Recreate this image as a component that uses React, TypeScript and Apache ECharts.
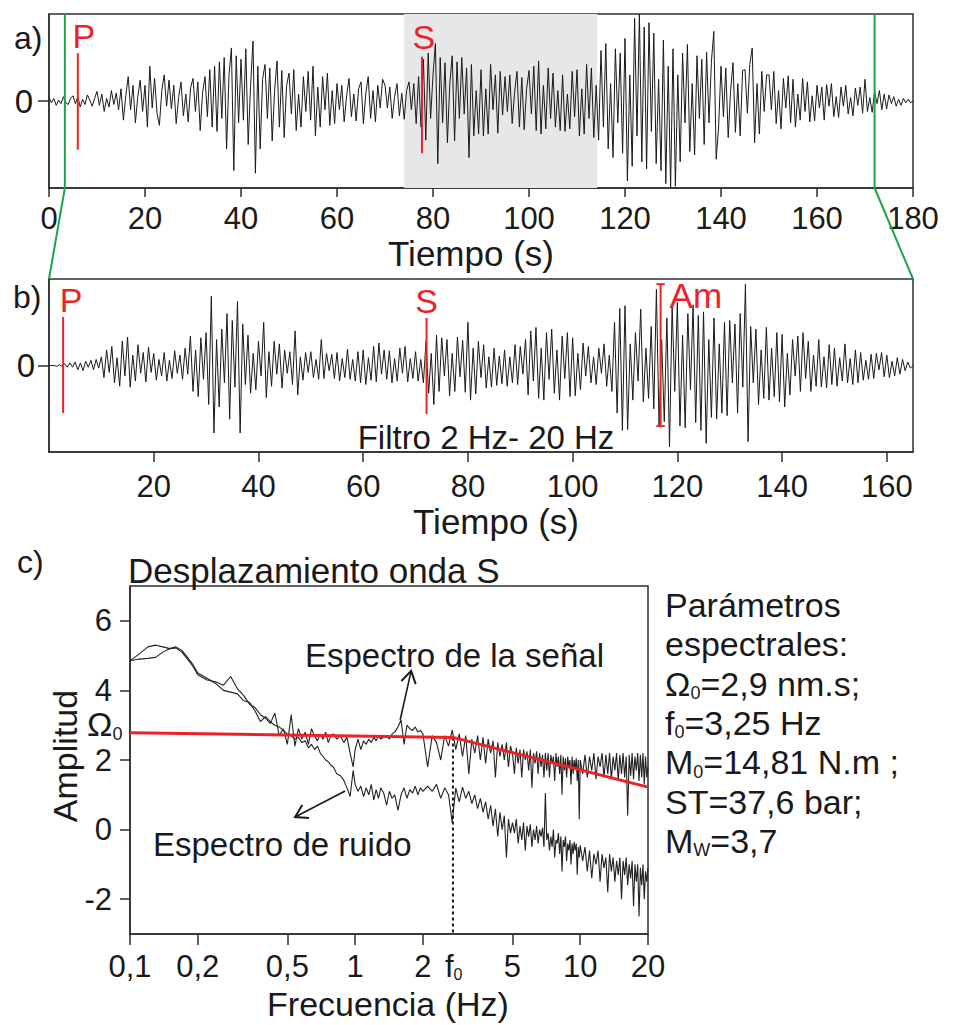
import React, { useEffect, useRef } from 'react';
import * as echarts from 'echarts';

// ---------- data ----------
const DT = 0.5;

// a) raw seismogram, 0-180 s (relative amplitude, %)
const TRACE_A = [
  4,-2,3,-5,1,-3,5,-2,-4,3,
  6,-3,5,-7,2,-4,7,1,-6,3,
  11,-5,8,-12,3,-7,12,-4,9,-10,
  14,-22,6,28,-10,18,-25,5,24,-12,
  18,-30,40,-8,26,-14,-28,12,30,-6,
  24,-9,18,-26,4,22,-17,8,-24,15,
  26,-12,22,-34,10,28,-18,36,-30,40,
  -35,45,-20,50,-55,30,61,-80,52,-25,
  48,-22,60,-50,18,69,-83,40,-55,25,
  42,-20,38,-46,12,46,-30,35,-42,18,
  32,-15,36,-34,8,-30,28,-12,34,-22,
  40,-40,16,-30,28,-10,32,-28,12,-26,
  20,-10,18,-24,6,26,-18,8,-23,14,
  22,-26,9,28,-20,12,-24,18,-8,25,
  18,-8,16,-20,5,20,-17,9,-21,12,
  22,-10,20,-26,28,-30,48,-45,55,-20,
  30,66,-72,50,-25,44,-48,20,52,-46,
  45,-20,50,-15,38,-65,42,-40,12,-38,
  36,-40,14,-38,42,-10,30,-37,34,-16,
  28,-12,30,-26,10,34,-30,27,-33,14,
  35,-15,40,-34,46,-38,18,-32,38,-20,
  32,-30,12,-34,30,-35,8,-32,34,-18,
  36,-40,14,-38,42,-20,38,-42,18,-45,
  58,-30,66,-55,20,-65,60,-25,55,-60,
  72,-92,30,-75,95,-40,100,-70,85,-78,
  90,-35,78,-72,25,-80,70,-95,40,-100,
  60,-98,30,-70,55,-25,65,-58,20,-62,
  52,-20,48,-50,56,-25,45,80,-67,-30,
  40,-18,38,-42,12,44,-36,20,-40,35,
  36,-14,42,61,-48,20,-38,34,-12,30,
  30,-10,34,-26,12,-32,26,-8,29,-25,
  25,-30,8,-22,26,-12,22,-24,6,-23,
  18,-8,16,-22,19,-6,20,-18,5,-19,
  16,-6,18,-15,4,-17,15,-5,16,-14,
  25,-12,4,-13,11,-3,12,-10,8,-9,
  7,-3,5,-6,2,-5,3,-2,2,-2,0,
];

// b) filtered seismogram (2-20 Hz), 0-165 s
const TRACE_B = [
  0,0,0,-1,1,-1,2,-2,3,-2,
  4,-5,3,-6,5,-2,6,-5,7,-3,
  10,-14,18,-8,22,-20,9,-24,28,-12,
  33,-25,12,-18,24,-9,15,-19,21,-8,
  14,-17,7,-12,15,-18,6,-15,17,-9,
  12,-16,20,-10,34,-30,18,-36,32,-16,
  38,-45,80,-78,30,-48,42,-20,60,-62,
  52,-25,74,-78,48,-22,35,-32,14,-28,
  28,-12,50,-37,16,-24,28,-10,25,-26,
  18,-9,16,-22,40,-34,10,-17,15,-8,
  16,-14,7,-16,30,-15,14,-6,13,-15,
  15,-18,8,-14,19,-16,7,-18,16,-20,
  18,-22,9,-17,22,-19,26,-10,18,-16,
  17,-20,8,-18,20,-9,22,-19,8,-15,
  16,-18,7,-20,28,-32,14,-45,35,-30,
  32,-12,30,-35,14,-30,33,-13,29,-31,
  50,-40,20,-33,28,-14,24,-26,10,-25,
  20,-23,11,-21,18,-24,10,-20,24,-22,
  22,-10,30,-34,40,-18,44,-38,20,-40,
  38,-16,42,-32,18,-40,34,-15,38,-36,
  32,-35,14,-28,26,-12,22,-20,10,-22,
  20,-9,25,-24,12,-30,50,-55,66,-75,
  69,-74,25,-40,38,-18,65,-42,20,-38,
  45,-50,88,-70,30,-65,55,-94,70,-30,
  73,-70,35,-72,60,-28,70,-66,58,-75,
  62,-90,30,-60,55,-62,25,-55,50,-58,
  52,-20,48,-55,60,-25,94,-88,45,-20,
  42,-45,18,-38,44,-40,20,-36,38,-42,
  36,-48,14,-34,30,-12,34,-30,38,-15,
  28,-30,12,-24,30,-25,10,-26,24,-22,
  20,-24,9,-18,25,-20,8,-22,18,-20,
  15,-17,6,-16,13,-15,14,-5,15,-13,
  12,-14,5,-12,9,-10,7,-6,4,-3,0,
];

// phase picks
const GRAY_WINDOW = [74, 114.2];
const WINDOW_B = [3.3, 172];
const P_A = { t: 6, top: 55, bottom: -56 };
const S_A = { t: 77.7, top: 51, bottom: -60 };
const P_B = { t: 2.7, top: 56, bottom: -55 };
const S_B = { t: 72.1, top: 55, bottom: -56 };
const AM_B = { t: 116.8, top: 94, bottom: -70 };

// c) S-wave displacement spectra
const FREQ = [
  0.10,0.11,0.12,0.13,0.14,0.15,0.16,0.17,0.18,0.19,0.20,
  0.22,0.24,0.26,0.28,0.30,0.32,0.34,0.36,0.38,0.40,0.42,0.44,0.46,0.48,0.50,
  0.52,0.54,0.56,0.58,0.60,0.62,0.64,0.66,0.68,0.70,0.72,0.74,0.76,0.78,0.80,
  0.83,0.86,0.89,0.92,0.95,0.98,1.00,
  1.03,1.06,1.09,1.12,1.15,1.18,1.21,1.24,1.27,1.30,
  1.34,1.38,1.42,1.46,1.50,
  1.55,1.60,1.65,1.70,1.75,1.80,1.85,1.90,1.95,2.00,
  2.1,2.2,2.3,2.4,2.5,2.6,2.7,
  2.8,2.9,3.0,3.1,3.2,3.3,3.4,3.5,
  3.6,3.7,3.8,3.9,4.0,4.1,4.2,4.3,4.4,4.5,4.6,4.7,4.8,4.9,5.0,
  5.1,5.2,5.3,5.4,5.5,5.6,5.7,5.8,5.9,6.0,6.1,6.2,6.3,6.4,6.5,6.6,6.7,6.8,6.9,7.0,
  7.1,7.2,7.3,7.4,7.5,7.6,7.7,7.8,7.9,8.0,8.1,8.2,8.3,8.4,8.5,8.6,8.7,8.8,8.9,9.0,
  9.1,9.2,9.3,9.4,9.5,9.6,9.7,9.8,9.9,10.0,
  10.25,10.5,10.75,11,11.25,11.5,11.75,12,12.25,12.5,12.75,13,13.25,13.5,13.75,14,
  14.25,14.5,14.75,15,15.25,15.5,15.75,16,16.25,16.5,16.75,17,17.25,17.5,17.75,18,
  18.25,18.5,18.75,19,19.25,19.5,19.75,20,
];
const SIGNAL = [
  4.85,5.05,5.25,5.3,5.25,5.2,5.22,5.1,4.9,4.7,4.45,
  4.3,4.25,4.15,4.4,4.05,3.85,3.6,3.5,3.3,3.2,3.05,3.35,2.7,2.9,2.45,
  3.3,2.4,2.9,2.6,2.8,2.45,2.9,2.7,2.55,2.75,2.6,2.8,2.5,2.7,2.75,
  2.6,2.7,2.5,2.65,2.2,1.8,2.3,
  2.6,2.3,2.55,2.45,2.6,2.5,2.65,2.55,2.7,2.6,
  2.65,2.7,2.6,2.75,2.8,
  2.95,3.15,2.45,3.0,2.9,2.85,2.95,2.8,2.85,2.75,
  1.8,2.7,2.5,2.0,2.7,2.4,2.86,
  2.3,2.75,2.1,2.7,1.6,2.6,2.2,2.7,
  2.0,2.65,1.9,2.6,2.2,2.55,1.5,2.5,2.1,2.45,2.0,2.5,1.8,2.4,2.2,
  1.6,2.35,1.9,2.3,1.5,2.3,2.0,2.25,1.7,2.3,1.2,2.2,1.9,2.25,1.6,2.2,1.8,2.15,1.5,2.2,
  1.7,2.2,1.5,2.15,1.9,2.1,1.4,2.2,1.8,2.1,1.6,2.15,1.0,2.1,1.7,2.05,1.5,2.1,1.8,2.0,
  1.3,2.1,1.6,2.0,1.75,2.05,1.4,2.0,0.3,2.0,
  1.6,2.15,1.5,2.1,1.7,2.2,1.45,2.1,1.8,2.2,1.5,2.15,1.6,2.2,1.45,2.1,
  1.7,2.2,1.4,2.15,1.6,2.2,1.5,2.1,0.4,2.15,1.55,2.2,1.45,2.1,1.7,2.2,
  1.4,2.15,1.5,2.2,1.3,2.1,1.5,1.8,
];
const NOISE = [
  4.85,4.9,4.92,4.95,5.1,5.2,5.25,5.15,4.95,4.75,4.5,
  4.35,4.2,4.0,3.95,3.9,3.7,3.65,3.4,3.1,3.25,3.1,3.0,2.95,2.85,2.75,
  2.7,2.6,2.65,2.5,2.55,2.35,2.45,2.3,2.4,2.2,2.1,2.0,1.95,1.85,1.8,
  1.6,1.55,1.42,1.2,0.95,1.7,1.3,
  1.1,1.25,0.95,1.2,1.0,1.3,0.85,1.15,0.9,1.2,
  1.05,0.7,1.1,0.9,1.0,
  0.55,1.0,1.2,0.9,1.15,1.05,1.25,1.0,1.2,1.1,
  1.25,1.1,1.3,0.9,1.2,1.0,0.2,
  1.2,0.8,1.22,0.9,1.1,0.75,1.0,0.6,
  0.9,0.5,0.8,0.3,0.7,0.1,0.6,-0.2,0.5,0.0,0.4,-0.8,0.3,-0.1,0.2,
  -0.1,0.3,-0.4,0.1,-0.3,0.2,-0.6,0.1,-0.2,0.15,-0.5,0.0,-0.3,0.1,-0.4,0.0,-0.2,0.05,-0.5,1.05,
  -0.3,-0.1,-0.6,-0.2,-0.5,0.0,-0.8,-0.3,-0.4,-0.1,-0.7,-0.2,-1.2,-0.3,-0.5,-0.2,-0.9,-0.4,-0.6,-0.3,
  -1.0,-0.4,-0.7,-0.35,-0.6,-0.4,-1.3,-0.5,-0.8,-0.45,
  -0.9,-0.5,-1.2,-0.6,-1.4,-0.7,-1.0,-0.6,-1.5,-0.7,-1.1,-0.8,-1.8,-0.7,-1.2,-0.8,
  -1.5,-0.9,-1.3,-0.8,-2.0,-0.9,-1.3,-0.8,-1.6,-1.0,-1.4,-0.9,-2.2,-1.0,-1.5,-1.0,
  -2.5,-1.1,-1.6,-1.0,-2.0,-1.2,-1.5,-1.1,
];
const MODEL_F = [0.1, 2.72, 20];
const MODEL_A = [2.78, 2.65, 1.22];
const F0_PLOT = 2.72;

// axes
const FREQ_TICKS = [0.1, 0.2, 0.5, 1, 2, 5, 10, 20];
const FREQ_TICK_LABELS = ['0,1', '0,2', '0,5', '1', '2', '5', '10', '20'];
const AMP_TICKS = [-2, 0, 2, 4, 6];
const TIME_TICKS_B = [20, 40, 60, 80, 100, 120, 140, 160];

// text segments: odd positions are subscripts
const PARAM_LINES = [
  ['Parámetros'],
  ['espectrales:'],
  ['Ω', '0', '=2,9 nm.s;'],
  ['f', '0', '=3,25 Hz'],
  ['M', '0', '=14,81 N.m ;'],
  ['ST=37,6 bar;'],
  ['M', 'W', '=3,7'],
];

// ---------- styling ----------
const FONT = '"Liberation Sans", Arial, Helvetica, sans-serif';
const INK = '#1a1a1a';
const AX = '#2e2e2e';
const RED = '#ec2227';
const GREEN = '#1ea54b';
const lg = Math.log10;

function axisCommon() {
  return {
    axisLine: { show: true, onZero: false, lineStyle: { color: AX, width: 1.5 } },
    splitLine: { show: false },
  };
}

function buildOption(): any {
  const tA = TRACE_A.map((v, i) => [i * DT, v]);
  const tB = TRACE_B.map((v, i) => [i * DT, v]);
  const n = Math.min(FREQ.length, SIGNAL.length, NOISE.length);
  const sig = [] as number[][];
  const noi = [] as number[][];
  for (let i = 0; i < n; i++) {
    sig.push([lg(FREQ[i]), SIGNAL[i]]);
    noi.push([lg(FREQ[i]), NOISE[i]]);
  }
  const vline = (gi: number, m: { t: number; top: number; bottom: number }, color: string, width: number, z = 5) => ({
    type: 'line', xAxisIndex: gi, yAxisIndex: gi, symbol: 'none', silent: true, z,
    data: [[m.t, m.bottom], [m.t, m.top]],
    lineStyle: { color, width },
  });
  const hcap = (gi: number, t: number, y: number) => ({
    type: 'line', xAxisIndex: gi, yAxisIndex: gi, symbol: 'none', silent: true, z: 5,
    data: [[t - 0.8, y], [t + 0.8, y]],
    lineStyle: { color: RED, width: 2 },
  });
  const labelStyle = { fontFamily: FONT, color: INK };

  return {
    animation: false,
    backgroundColor: '#ffffff',
    grid: [
      { left: 49, top: 14, width: 864, height: 174, show: true, borderColor: AX, borderWidth: 1.5 },
      { left: 49, top: 279, width: 864, height: 173, show: true, borderColor: AX, borderWidth: 1.5 },
      { left: 130, top: 586, width: 518, height: 348, show: true, borderColor: AX, borderWidth: 1.5 },
    ],
    xAxis: [
      {
        gridIndex: 0, type: 'value', min: 0, max: 180, interval: 20, ...axisCommon(),
        axisTick: { show: true, length: 9, lineStyle: { color: AX, width: 1.5 } },
        axisLabel: { ...labelStyle, fontSize: 31, margin: 15 },
      },
      {
        gridIndex: 1, type: 'value', min: 0, max: 165, ...axisCommon(),
        axisTick: { show: true, length: 10, customValues: TIME_TICKS_B, lineStyle: { color: AX, width: 1.5 } },
        axisLabel: { ...labelStyle, fontSize: 31, margin: 19, customValues: TIME_TICKS_B },
      },
      {
        gridIndex: 2, type: 'value', min: -1, max: lg(20), ...axisCommon(),
        axisTick: { show: true, length: 11, customValues: FREQ_TICKS.map(lg), lineStyle: { color: AX, width: 1.5 } },
        axisLabel: {
          ...labelStyle, fontSize: 31, margin: 17, customValues: FREQ_TICKS.map(lg),
          formatter: (v: number) => {
            const i = FREQ_TICKS.findIndex((f) => Math.abs(lg(f) - v) < 1e-6);
            return i >= 0 ? FREQ_TICK_LABELS[i] : '';
          },
        },
      },
    ],
    yAxis: [
      {
        gridIndex: 0, type: 'value', min: -100, max: 100, ...axisCommon(),
        axisTick: { show: true, length: 11, customValues: [0], lineStyle: { color: AX, width: 1.5 } },
        axisLabel: { ...labelStyle, fontSize: 33, margin: 16, customValues: [0] },
      },
      {
        gridIndex: 1, type: 'value', min: -100, max: 100, ...axisCommon(),
        axisTick: { show: true, length: 11, customValues: [0], lineStyle: { color: AX, width: 1.5 } },
        axisLabel: { ...labelStyle, fontSize: 33, margin: 14, customValues: [0] },
      },
      {
        gridIndex: 2, type: 'value', min: -3, max: 7, ...axisCommon(),
        axisTick: { show: true, length: 10, customValues: AMP_TICKS, lineStyle: { color: AX, width: 1.5 } },
        axisLabel: { ...labelStyle, fontSize: 31, margin: 18, customValues: AMP_TICKS },
      },
    ],
    series: [
      {
        type: 'line', xAxisIndex: 0, yAxisIndex: 0, data: [], silent: true, z: 1,
        markArea: {
          silent: true, itemStyle: { color: '#e6e7e8' },
          data: [[{ xAxis: GRAY_WINDOW[0] }, { xAxis: GRAY_WINDOW[1] }]],
        },
      },
      {
        type: 'line', xAxisIndex: 0, yAxisIndex: 0, data: tA, symbol: 'none', silent: true, z: 2,
        lineStyle: { color: INK, width: 1 },
      },
      {
        type: 'line', xAxisIndex: 1, yAxisIndex: 1, data: tB, symbol: 'none', silent: true, z: 2,
        lineStyle: { color: INK, width: 1 },
      },
      vline(0, P_A, RED, 2),
      vline(0, S_A, RED, 2),
      vline(0, { t: WINDOW_B[0], top: 100, bottom: -100 }, GREEN, 2, 6),
      vline(0, { t: WINDOW_B[1], top: 100, bottom: -100 }, GREEN, 2, 6),
      vline(1, P_B, RED, 2),
      vline(1, S_B, RED, 2),
      vline(1, AM_B, RED, 2),
      hcap(1, AM_B.t, AM_B.top),
      hcap(1, AM_B.t, AM_B.bottom),
      {
        type: 'line', xAxisIndex: 2, yAxisIndex: 2, data: noi, symbol: 'none', silent: true, z: 2,
        lineStyle: { color: '#222', width: 1.1 },
      },
      {
        type: 'line', xAxisIndex: 2, yAxisIndex: 2, data: sig, symbol: 'none', silent: true, z: 2,
        lineStyle: { color: '#222', width: 1.1 },
      },
      {
        type: 'line', xAxisIndex: 2, yAxisIndex: 2, symbol: 'none', silent: true, z: 4,
        data: [[lg(F0_PLOT), MODEL_A[1]], [lg(F0_PLOT), -3]],
        lineStyle: { color: INK, width: 2, type: [3, 3] },
      },
      {
        type: 'line', xAxisIndex: 2, yAxisIndex: 2, symbol: 'none', silent: true, z: 5,
        data: MODEL_F.map((f, i) => [lg(f), MODEL_A[i]]),
        lineStyle: { color: RED, width: 3 },
      },
    ],
  };
}

const measureCtx = typeof document !== 'undefined' ? document.createElement('canvas').getContext('2d') : null;
function textWidth(t: string, size: number) {
  if (!measureCtx) return t.length * size * 0.55;
  measureCtx.font = `${size}px ${FONT}`;
  return measureCtx.measureText(t).width;
}

function buildGraphics(chart: any): any[] {
  const p = (gi: number, x: number, y: number) => chart.convertToPixel({ gridIndex: gi }, [x, y]) as number[];
  const txt = (x: number, y: number, text: string, size: number, extra: any = {}) => ({
    type: 'text', x, y, z: 20, silent: true,
    style: { text, fontSize: size, fontFamily: FONT, fill: INK, align: 'left', verticalAlign: 'middle', ...extra },
  });
  // main text with subscripts (segments at odd indices are subscripts)
  const subText = (x: number, y: number, segs: string[], size: number, drop = 0.28) => {
    const out: any[] = [];
    const subSize = Math.round(size * 0.52);
    let cx = x;
    segs.forEach((s, i) => {
      if (i % 2 === 1) {
        out.push(txt(cx, y + size * drop, s, subSize));
        cx += textWidth(s, subSize);
      } else {
        out.push(txt(cx, y, s, size));
        cx += textWidth(s, size);
      }
    });
    return out;
  };
  const arrow = (tail: number[], tip: number[]) => {
    const dx = tip[0] - tail[0];
    const dy = tip[1] - tail[1];
    const len = Math.hypot(dx, dy) || 1;
    const ux = dx / len;
    const uy = dy / len;
    const L = 14;
    const arm = (a: number) => [
      tip[0] - L * (ux * Math.cos(a) - uy * Math.sin(a)),
      tip[1] - L * (ux * Math.sin(a) + uy * Math.cos(a)),
    ];
    return [
      { type: 'line', z: 20, silent: true, shape: { x1: tail[0], y1: tail[1], x2: tip[0], y2: tip[1] }, style: { stroke: INK, lineWidth: 1.6 } },
      { type: 'polyline', z: 20, silent: true, shape: { points: [arm(0.55), tip, arm(-0.55)] }, style: { stroke: INK, lineWidth: 2, fill: 'none' } },
    ];
  };

  const gA0 = p(0, WINDOW_B[0], -100);
  const gA1 = p(0, WINDOW_B[1], -100);
  const gB0 = p(1, 0, 100);
  const gB1 = p(1, 165, 100);

  const pa = p(0, P_A.t, P_A.top);
  const sa = p(0, S_A.t, S_A.top);
  const pb = p(1, P_B.t, P_B.top);
  const sb = p(1, S_B.t, S_B.top);
  const am = p(1, AM_B.t, AM_B.top);
  const f0 = p(2, lg(F0_PLOT), -3);

  const els: any[] = [
    { type: 'line', z: 6, silent: true, shape: { x1: gA0[0], y1: gA0[1], x2: gB0[0], y2: gB0[1] }, style: { stroke: GREEN, lineWidth: 2 } },
    { type: 'line', z: 6, silent: true, shape: { x1: gA1[0], y1: gA1[1], x2: gB1[0], y2: gB1[1] }, style: { stroke: GREEN, lineWidth: 2 } },

    txt(14, 38, 'a)', 32),
    txt(13, 297, 'b)', 32),
    txt(17, 562, 'c)', 32),

    txt(pa[0] + 6, pa[1] - 17, 'P', 34, { fill: RED, align: 'center' }),
    txt(sa[0] + 2, sa[1] - 20, 'S', 34, { fill: RED, align: 'center' }),
    txt(pb[0] + 8, pb[1] - 17, 'P', 34, { fill: RED, align: 'center' }),
    txt(sb[0] + 0, sb[1] - 17, 'S', 34, { fill: RED, align: 'center' }),
    txt(am[0] + 9, am[1] + 11, 'Am', 35, { fill: RED }),

    txt(471, 253, 'Tiempo (s)', 35, { align: 'center' }),
    txt(496, 521, 'Tiempo (s)', 35, { align: 'center' }),
    txt(486, 437, 'Filtro 2 Hz- 20 Hz', 33, { align: 'center' }),

    txt(128, 570, 'Desplazamiento onda S', 35),
    { ...txt(65, 756, 'Amplitud', 34, { align: 'center' }), rotation: Math.PI / 2 },
    ...subText(87, 724, ['Ω', '0'], 34, 0.3),
    txt(305, 655, 'Espectro de la señal', 33),
    txt(153, 844, 'Espectro de ruido', 33),
    txt(388, 1004, 'Frecuencia (Hz)', 34, { align: 'center' }),
    ...subText(f0[0] - 8, f0[1] + 32, ['f', '0'], 31),

    ...arrow(p(2, lg(1.585), 3.15), p(2, lg(1.774), 4.56)),
    ...arrow(p(2, lg(0.903), 1.11), p(2, lg(0.541), 0.36)),
  ];
  PARAM_LINES.forEach((segs, i) => {
    els.push(...subText(665, 605 + i * 39.3, segs, 34));
  });
  return els;
}

export default function App() {
  const ref = useRef<HTMLDivElement>(null);
  useEffect(() => {
    const el = ref.current;
    if (!el) return;
    const chart = echarts.init(el, undefined, { renderer: 'svg' });
    chart.setOption(buildOption());
    chart.setOption({ graphic: buildGraphics(chart) });
    return () => chart.dispose();
  }, []);
  return (
    <div
      ref={ref}
      style={{ position: 'absolute', left: 0, top: 0, width: 958, height: 1025, background: '#fff' }}
    />
  );
}
